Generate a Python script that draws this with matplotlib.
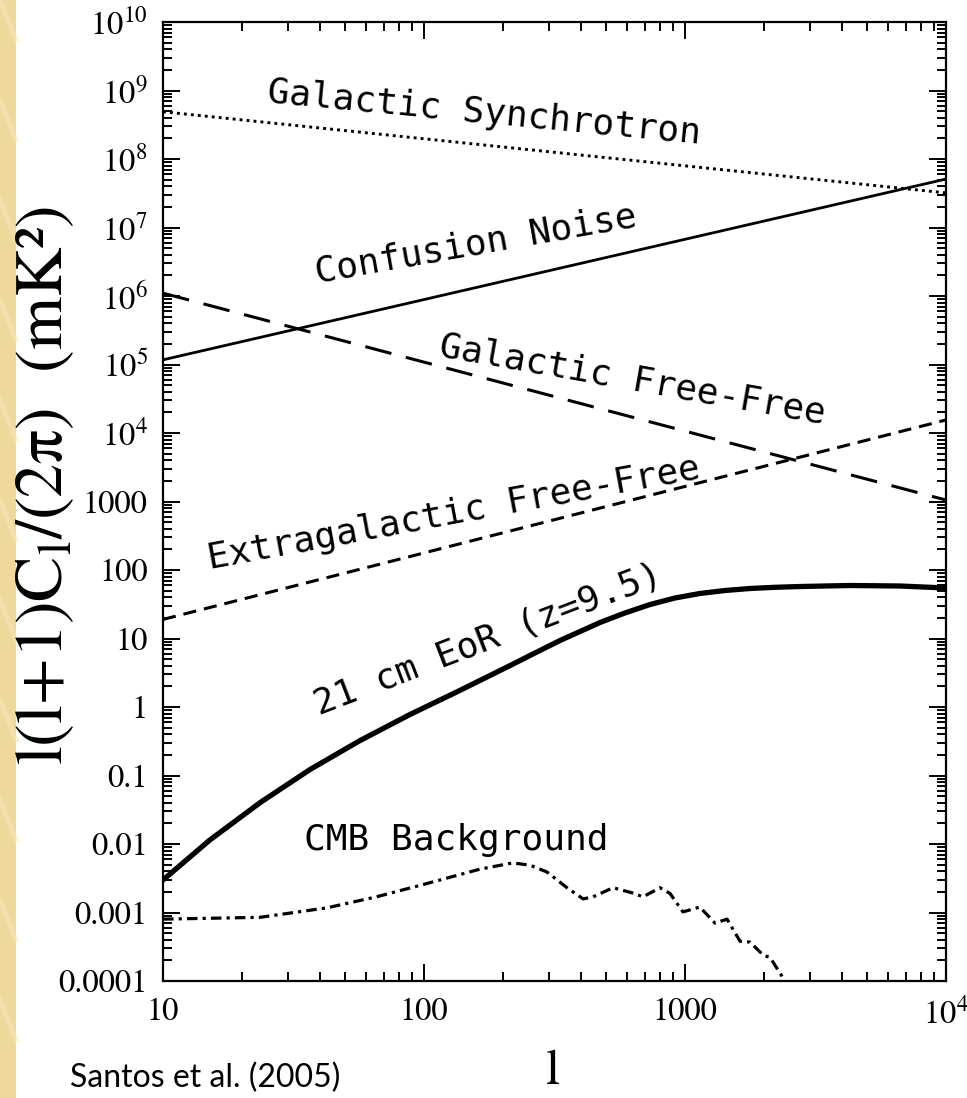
import numpy as np
import matplotlib
matplotlib.use("Agg")
import matplotlib.pyplot as plt
from matplotlib.ticker import LogLocator, FixedLocator, NullFormatter
from matplotlib.patches import Rectangle

# multipole range of the straight (power-law) foregrounds
ell_ends = [10, 10000]

# foreground amplitudes at l=10 and l=10^4 (mK^2)
sync_cl = [4.9e8, 3.2e7]
confusion_cl = [1.17e5, 5.1e7]
gal_ff_cl = [1.1e6, 1.05e3]
exgal_ff_cl = [19, 1.55e4]

# 21 cm EoR signal (z=9.5)
eor_l = [10, 15.1, 23.6, 36.6, 56.9, 88.4, 137, 214, 266, 332, 396, 472,
         589, 734, 915, 1140, 1423, 1774, 2212, 2760, 4285, 6665, 10000]
eor_cl = [0.00298, 0.0114, 0.0404, 0.1225, 0.324, 0.778, 1.74, 4.04, 6.14,
          9.35, 12.65, 17.1, 23.6, 31.3, 39.0, 45.4, 50.2, 53.7, 55.9, 57.4,
          59.4, 58.4, 54.6]

# CMB background
cmb_l = [10, 23.5, 42.5, 66, 97, 164, 219, 255, 296, 353, 407, 444, 530,
         632, 690, 802, 876, 982, 1140, 1303, 1449, 1625, 1774, 1991,
         2118, 2418]
cmb_cl = [8.0e-4, 8.5e-4, 1.17e-3, 1.7e-3, 2.5e-3, 4.3e-3, 5.3e-3, 4.9e-3,
          3.9e-3, 2.3e-3, 1.58e-3, 1.69e-3, 2.3e-3, 1.92e-3, 1.69e-3,
          2.3e-3, 1.9e-3, 1.02e-3, 1.2e-3, 7.0e-4, 8.0e-4, 3.8e-4, 3.7e-4,
          2.4e-4, 2.2e-4, 1.0e-4]

curve_names = ["Galactic Synchrotron", "Confusion Noise", "Galactic Free-Free",
               "Extragalactic Free-Free", "21 cm EoR (z=9.5)", "CMB Background"]

ytick_vals = [1e10, 1e9, 1e8, 1e7, 1e6, 1e5, 1e4, 1e3, 1e2, 1e1, 1, 0.1,
              0.01, 0.001, 0.0001]
ytick_labels = [r"$10^{10}$", r"$10^{9}$", r"$10^{8}$", r"$10^{7}$",
                r"$10^{6}$", r"$10^{5}$", r"$10^{4}$", "1000", "100", "10",
                "1", "0.1", "0.01", "0.001", "0.0001"]
xtick_vals = [10, 100, 1000, 10000]
xtick_labels = ["10", "100", "1000", r"$10^4$"]

W, H = 967, 1098
plt.rcParams['font.family'] = 'STIXGeneral'
plt.rcParams['mathtext.fontset'] = 'stix'

fig = plt.figure(figsize=(W / 100, H / 100), dpi=100)
fig.patch.set_facecolor('white')


def px(x, y):
    return x / W, 1 - y / H


# striped strip on the left edge
fig.patches.append(Rectangle((0, 0), 16 / W, 1, transform=fig.transFigure,
                             facecolor='#eed89b', edgecolor='none', zorder=0))
for k in range(12):
    y0 = k * 100
    fig.lines.append(plt.Line2D([0, 16 / W], [1 - y0 / H, 1 - (y0 + 40) / H],
                                transform=fig.transFigure, color='#f6e6b8',
                                lw=4, alpha=0.5))

ax = fig.add_axes([163 / W, 1 - 981 / H, (946 - 163) / W, (981 - 22) / H])
ax.set_xscale('log')
ax.set_yscale('log')
ax.set_xlim(10, 1e4)
ax.set_ylim(1e-4, 1e10)

ax.plot(ell_ends, sync_cl, color='black', lw=2.1,
        linestyle=(0, (1, 1.4)))
ax.plot(ell_ends, confusion_cl, color='black', lw=2.0)
ax.plot(ell_ends, gal_ff_cl, color='black', lw=2.2,
        linestyle=(0, (8.8, 4.9)))
ax.plot(ell_ends, exgal_ff_cl, color='black', lw=2.2,
        linestyle=(0, (4.3, 2.6)))
ax.plot(eor_l, eor_cl, color='black', lw=3.8, solid_joinstyle='round')
ax.plot(cmb_l, cmb_cl, color='black', lw=2.3,
        linestyle=(0, (3.3, 1.6, 1, 1.6)))

# ticks
ax.yaxis.set_major_locator(FixedLocator(ytick_vals))
ax.set_yticklabels(ytick_labels)
ax.yaxis.set_minor_locator(LogLocator(base=10, subs=np.arange(2, 10), numticks=100))
ax.yaxis.set_minor_formatter(NullFormatter())
ax.xaxis.set_major_locator(FixedLocator(xtick_vals))
ax.set_xticklabels(xtick_labels)
ax.xaxis.set_minor_locator(LogLocator(base=10, subs=np.arange(2, 10), numticks=100))
ax.xaxis.set_minor_formatter(NullFormatter())

ax.tick_params(which='both', direction='in', top=True, right=True,
               width=1.4, labelsize=23.5)
ax.tick_params(which='major', length=12)
ax.tick_params(which='minor', length=6.5)
ax.tick_params(axis='y', pad=11)
ax.tick_params(axis='x', pad=12)
for s in ax.spines.values():
    s.set_linewidth(1.6)

# curve labels
mono = 'DejaVu Sans Mono'
lab_kw = dict(family=mono, fontsize=26, ha='center', va='center',
              rotation_mode='anchor', transform=fig.transFigure)
fig.text(*px(484, 113), curve_names[0], rotation=-5.5, **lab_kw)
fig.text(*px(476, 244), curve_names[1], rotation=10, **lab_kw)
fig.text(*px(633, 380), curve_names[2], rotation=-10, **lab_kw)
fig.text(*px(454, 514), curve_names[3], rotation=10.5, **lab_kw)
fig.text(*px(488, 640), curve_names[4], rotation=21, **lab_kw)
fig.text(*px(456, 840), curve_names[5], rotation=0, **lab_kw)

# axis labels
fig.text(*px(46, 486), "l(l+1)C$_\\mathrm{l}$/(2π)  (mK²)", rotation=90,
         fontsize=49, ha='center', va='center')
fig.text(*px(552, 1072), "l", fontsize=36, ha='center', va='center')
fig.text(*px(70, 1078), "Santos et al. (2005)", family='Lato', fontsize=23,
         ha='left', va='center')

fig.savefig('out.png', dpi=100)
